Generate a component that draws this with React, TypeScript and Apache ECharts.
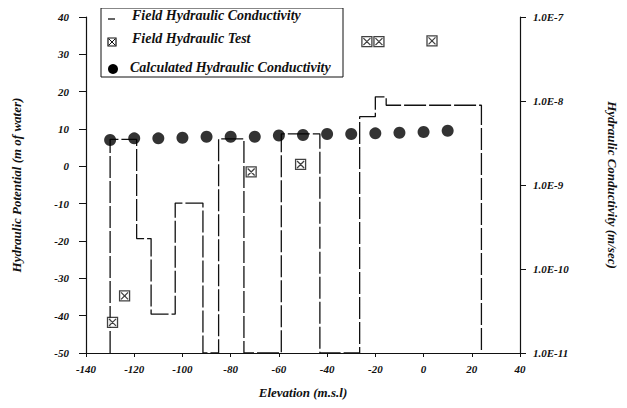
import React, { useEffect, useRef } from "react";
import * as echarts from "echarts";

// Field hydraulic conductivity (step profile), right log axis
const stepElevation = [-130, -130, -119, -119, -113, -113, -103, -103, -91.5, -91.5, -85, -85, -74.5, -74.5, -59, -59, -43, -43, -26.5, -26.5, -20, -20, -15.5, -15.5, 24, 24];
const stepConductivity = [1e-11, 3.5e-9, 3.5e-9, 2.3e-10, 2.3e-10, 2.9e-11, 2.9e-11, 6.1e-10, 6.1e-10, 1e-11, 1e-11, 3.55e-9, 3.55e-9, 1e-11, 1e-11, 4.07e-9, 4.07e-9, 1e-11, 1e-11, 6.5e-9, 6.5e-9, 1.12e-8, 1.12e-8, 8.9e-9, 8.9e-9, 1e-11];

// Field hydraulic test (squares with X)
const testElevation = [-129, -124, -71.5, -51, -23.5, -18.5, 3.5];
const testPotential = [-41.8, -34.7, -1.5, 0.5, 33.4, 33.4, 33.6];

// Calculated hydraulic conductivity (dots)
const calcElevation = [-130, -120, -110, -100, -90, -80, -70, -60, -50, -40, -30, -20, -10, 0, 10];
const calcPotential = [7.05, 7.5, 7.5, 7.66, 7.93, 7.93, 7.93, 8.25, 8.38, 8.65, 8.65, 8.84, 9.0, 9.19, 9.54];

const legendLabels = ["Field Hydraulic Conductivity", "Field Hydraulic Test", "Calculated Hydraulic Conductivity"];

const FONT = "Liberation Serif";
const INK = "#111";

const labelStyle = {
  fontFamily: FONT,
  fontWeight: "bold" as const,
  fontStyle: "italic" as const,
  color: INK,
  fontSize: 11,
};
const nameStyle = {
  fontFamily: FONT,
  fontWeight: "bold" as const,
  fontStyle: "italic" as const,
  color: INK,
  fontSize: 13,
};

const squareX = "path://M0,0H10V10H0ZM1.5,1.5L8.5,8.5M8.5,1.5L1.5,8.5";

export default function App() {
  const ref = useRef<HTMLDivElement>(null);
  useEffect(() => {
    if (!ref.current) return;
    const chart = echarts.init(ref.current, null, { renderer: "svg" });
    const legendText = (i: number, x: number, y: number) => ({
      type: "text",
      left: x,
      top: y,
      z: 11,
      style: {
        text: legendLabels[i],
        fontFamily: FONT,
        fontWeight: "bold",
        fontStyle: "italic",
        fontSize: 14,
        fill: INK,
      },
    });
    chart.setOption({
      animation: false,
      backgroundColor: "#fff",
      grid: { left: 86, right: 102, top: 17, bottom: 55 },
      xAxis: {
        type: "value",
        min: -140,
        max: 40,
        interval: 20,
        name: "Elevation (m.s.l)",
        nameLocation: "middle",
        nameGap: 33,
        nameTextStyle: nameStyle,
        axisLine: { onZero: false, lineStyle: { color: INK, width: 1.2 } },
        axisTick: { show: true, length: 4, lineStyle: { color: INK } },
        axisLabel: { ...labelStyle, margin: 10 },
        splitLine: { show: false },
      },
      yAxis: [
        {
          type: "value",
          min: -50,
          max: 40,
          interval: 10,
          position: "left",
          name: "Hydraulic Potential (m of water)",
          nameLocation: "middle",
          nameGap: 63,
          nameTextStyle: nameStyle,
          axisLine: { show: true, onZero: false, lineStyle: { color: INK, width: 1.2 } },
          axisTick: { show: true, length: 7, lineStyle: { color: INK } },
          axisLabel: { ...labelStyle, margin: 17 },
          splitLine: { show: false },
        },
        {
          type: "log",
          logBase: 10,
          min: 1e-11,
          max: 1e-7,
          position: "right",
          name: "Hydraulic Conductivity (m/sec)",
          nameLocation: "middle",
          nameRotate: -90,
          nameGap: 86,
          nameTextStyle: nameStyle,
          axisLine: { show: true, onZero: false, lineStyle: { color: INK, width: 1.2 } },
          axisTick: { show: true, length: 6, lineStyle: { color: INK } },
          axisLabel: {
            ...labelStyle,
            margin: 13,
            formatter: (v: number) => "1.0E" + Math.round(Math.log10(v)),
          },
          splitLine: { show: false },
        },
      ],
      series: [
        {
          name: legendLabels[0],
          type: "line",
          yAxisIndex: 1,
          data: stepElevation.map((x, i) => [x, stepConductivity[i]]),
          showSymbol: false,
          symbol: "none",
          lineStyle: { color: INK, width: 1.3, type: [22, 3] },
          z: 2,
        },
        {
          name: legendLabels[2],
          type: "scatter",
          yAxisIndex: 0,
          data: calcElevation.map((x, i) => [x, calcPotential[i]]),
          symbol: "circle",
          symbolSize: 12,
          itemStyle: { color: "#000" },
          z: 3,
        },
        {
          name: legendLabels[1],
          type: "scatter",
          yAxisIndex: 0,
          data: testElevation.map((x, i) => [x, testPotential[i]]),
          symbol: squareX,
          symbolSize: 10,
          itemStyle: { color: "#fff", borderColor: INK, borderWidth: 1.3 },
          z: 4,
        },
      ],
      graphic: [
        {
          type: "rect",
          shape: { x: 101, y: 8, width: 242, height: 69 },
          style: { fill: "#fff", stroke: INK, lineWidth: 1 },
          z: 10,
        },
        {
          type: "line",
          shape: { x1: 108, y1: 19, x2: 115, y2: 19 },
          style: { stroke: INK, lineWidth: 1.3 },
          z: 11,
        },
        {
          type: "group",
          x: 108,
          y: 38,
          z: 11,
          children: [
            { type: "rect", shape: { x: 0, y: 0, width: 8, height: 8 }, style: { fill: "#fff", stroke: INK, lineWidth: 1.2 }, z: 11 },
            { type: "line", shape: { x1: 1, y1: 1, x2: 7, y2: 7 }, style: { stroke: INK, lineWidth: 1 }, z: 12 },
            { type: "line", shape: { x1: 7, y1: 1, x2: 1, y2: 7 }, style: { stroke: INK, lineWidth: 1 }, z: 12 },
          ],
        },
        {
          type: "circle",
          shape: { cx: 113, cy: 69, r: 5 },
          style: { fill: "#000" },
          z: 11,
        },
        legendText(0, 132, 8),
        legendText(1, 132, 31),
        legendText(2, 130, 60),
      ],
    });
    return () => chart.dispose();
  }, []);
  return (
    <div style={{ margin: -8 }}>
      <div ref={ref} style={{ width: 627, height: 408 }} />
    </div>
  );
}
